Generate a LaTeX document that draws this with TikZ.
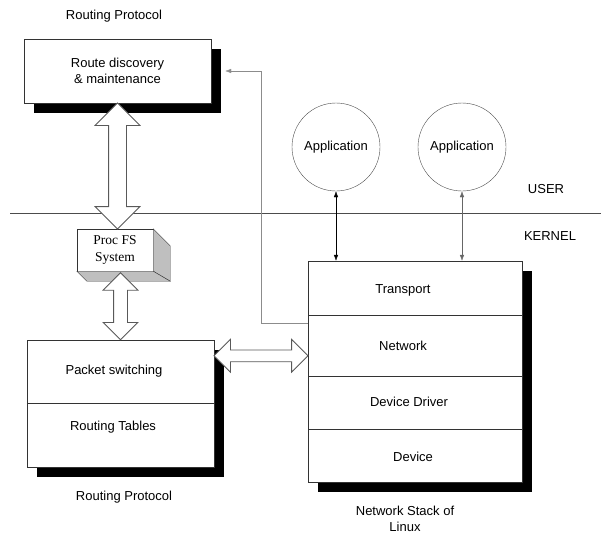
\documentclass[tikz,border=0pt]{standalone}
\usepackage{fontspec}
\setmainfont{Liberation Sans}
\newfontfamily\procfont{Liberation Serif}
\usetikzlibrary{arrows.meta,shapes.arrows,shadows,positioning}
\tikzset{>={Latex[length=6pt,width=4.5pt]}}

\begin{document}
\begin{tikzpicture}[x=1pt,y=-1pt,font=\fontsize{13}{16}\selectfont,
  box/.style={draw=black!80,fill=white,general shadow={fill=black,shadow xshift=10pt,shadow yshift=-10pt}},
  app/.style={circle,draw=black!70,minimum size=88,inner sep=0pt},
  hollow/.style={double arrow,draw=black!65,fill=white,thick,inner sep=0pt,rotate=90},
  txt/.style={align=center}]
\useasboundingbox (0,0) rectangle (601,535);
% user / kernel boundary
\draw[black!70,thick] (10,213) -- (601,213);
\node[txt] (user) at (546,189) {USER};
\node[txt] (kernel) at (550,236) {KERNEL};

% routing protocol (user side)
\node[txt] (rpttl) at (114,16) {Routing Protocol};
\node[box,minimum width=187,minimum height=64,txt] (route) at (117.5,71) {Route discovery\\\& maintenance};

% proc fs
\node[draw=black!80,fill=white,minimum width=76,minimum height=42,txt,
  font=\procfont\fontsize{13.5}{17}\selectfont] (procfs) at (115,250) {Proc FS\\System};
\draw[draw=black!80,fill=black!25] (procfs.north east) -- ++(17,17) -- ([xshift=17,yshift=-10]procfs.south east) -- (procfs.south east) -- cycle;
\draw[draw=black!80,fill=black!25] (procfs.south west) -- ++(10,10) -- ([xshift=17,yshift=-10]procfs.south east) -- (procfs.south east) -- cycle;

% routing protocol (kernel side)
\node[box,minimum width=187,minimum height=127] (pkt) at (120.5,403.5) {};
\draw[black!80] (pkt.west) -- (pkt.east);
\node[txt] (pswitch) at (114,371) {Packet switching};
\node[txt] (rtables) at (113,427) {Routing Tables};
\node[txt] (rpttl2) at (124,497) {Routing Protocol};

% network stack
\node[box,minimum width=214,minimum height=221] (stack) at (415,371.5) {};
\foreach \y in {315,376,429}
\draw[black!80] (308,\y) -- (522,\y);
\node[txt] (transport) at (403,290) {Transport};
\node[txt] (network) at (403,346) {Network};
\node[txt] (driver) at (409,402) {Device Driver};
\node[txt] (device) at (413,457) {Device};
\node[txt] (nsttl) at (405,519) {Network Stack of\\Linux};

% applications
\node[app] (app1) at (336,147) {Application};
\node[app] (app2) at (462,147) {Application};
\draw[<->] (app1.south) -- (app1.south |- stack.north);
\draw[<->,black!60] (app2.south) -- (app2.south |- stack.north);

% hollow arrows
\path (route.south) -- (route.south |- procfs.north)
  node[midway,hollow,minimum height=126,inner ysep=8.5,double arrow head extend=13.5] (ha1) {};
\path (pkt.north) -- ++(0,-67)
  node[midway,hollow,minimum height=67,inner ysep=6.5,double arrow head extend=10.5] (ha2) {};
\path ([yshift=-16]pkt.north east) -- ([yshift=-16]pkt.north east -| stack.west)
  node[midway,hollow,rotate=-90,minimum height=94,inner ysep=5.5,double arrow head extend=10.5] (ha3) {};

% feedback to route discovery
\draw[->,black!45] ([yshift=-62]stack.north west) -- ++(-47,0) |- ([xshift=14]route.east);
\end{tikzpicture}
\end{document}
